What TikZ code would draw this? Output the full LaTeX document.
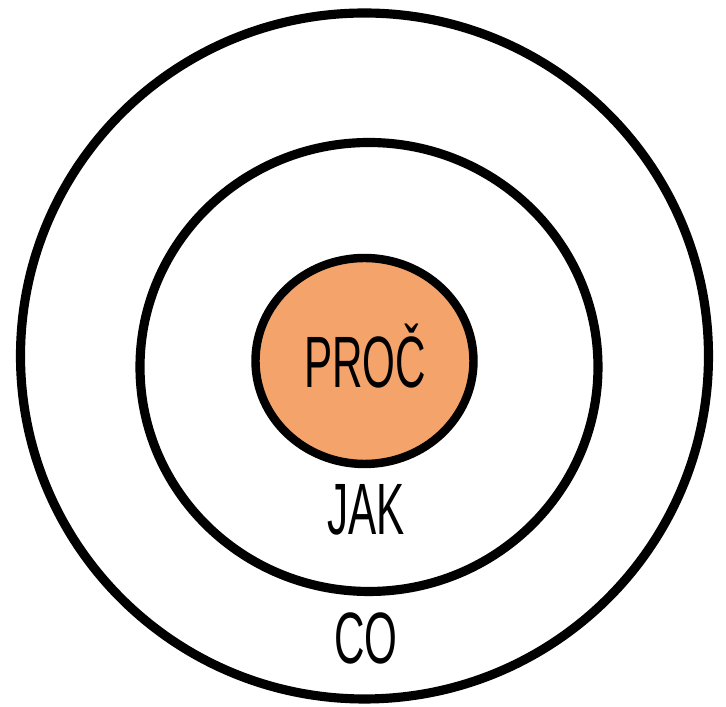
\documentclass[tikz,border=0pt]{standalone}
\usepackage{fontspec}
\newfontfamily\ringfont[FakeStretch=0.58]{Liberation Sans}
\definecolor{procorange}{RGB}{244,164,106}
\begin{document}
\begin{tikzpicture}[
    ring/.style={line width=2.6pt, black},
    ringlabel/.style={anchor=base, inner sep=0pt, font=\ringfont\fontsize{20.7}{24}\selectfont}
  ]
    \useasboundingbox (0,0) rectangle (7.26,7.07);

    % Outer and middle rings
    \draw[ring] (3.645,3.51) ellipse [x radius=3.44, y radius=3.43];
    \draw[ring] (3.69,3.40) ellipse [x radius=2.29, y radius=2.245];

    % Core, filled
    \draw[ring, line width=2.4pt, fill=procorange] (3.645,3.46) ellipse [x radius=1.09, y radius=1.03];

    % Labels
    \node[ringlabel] (proc) at (3.65,3.19) {PROČ};
    \node[ringlabel] (jak) at (3.66,1.72) {JAK};
    \node[ringlabel] (co) at (3.66,0.43) {CO};
\end{tikzpicture}
\end{document}
